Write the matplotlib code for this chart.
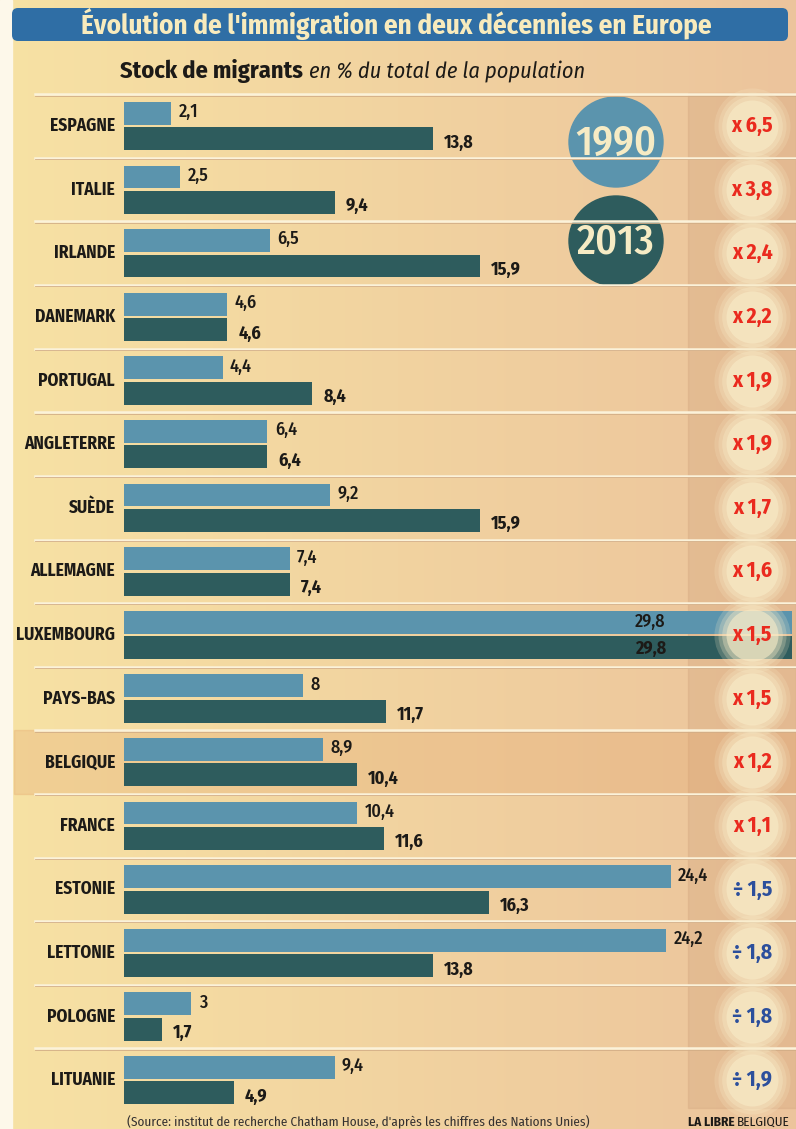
import numpy as np
import matplotlib
matplotlib.use("Agg")
import matplotlib.pyplot as plt
import matplotlib.patches as mpatches
import matplotlib.transforms as mtrans
from matplotlib.colors import to_rgb

# data
countries = ["ESPAGNE", "ITALIE", "IRLANDE", "DANEMARK", "PORTUGAL", "ANGLETERRE",
             "SUÈDE", "ALLEMAGNE", "LUXEMBOURG", "PAYS-BAS", "BELGIQUE", "FRANCE",
             "ESTONIE", "LETTONIE", "POLOGNE", "LITUANIE"]
v1990 = [2.1, 2.5, 6.5, 4.6, 4.4, 6.4, 9.2, 7.4, 29.8, 8.0, 8.9, 10.4, 24.4, 24.2, 3.0, 9.4]
v2013 = [13.8, 9.4, 15.9, 4.6, 8.4, 6.4, 15.9, 7.4, 29.8, 11.7, 10.4, 11.6, 16.3, 13.8, 1.7, 4.9]
lab1990 = ["2,1", "2,5", "6,5", "4,6", "4,4", "6,4", "9,2", "7,4", "29,8", "8", "8,9",
           "10,4", "24,4", "24,2", "3", "9,4"]
lab2013 = ["13,8", "9,4", "15,9", "4,6", "8,4", "6,4", "15,9", "7,4", "29,8", "11,7",
           "10,4", "11,6", "16,3", "13,8", "1,7", "4,9"]
ratios = ["x 6,5", "x 3,8", "x 2,4", "x 2,2", "x 1,9", "x 1,9", "x 1,7", "x 1,6",
          "x 1,5", "x 1,5", "x 1,2", "x 1,1", "÷ 1,5", "÷ 1,8", "÷ 1,8", "÷ 1,9"]

plt.rcParams["font.family"] = ["Fira Sans Condensed", "DejaVu Sans"]

c90 = "#5b94ad"
c13 = "#2e5c5d"
red = "#ea2a1e"
blue = "#2c4f9c"
ink = "#1c1a17"

W, H = 796, 1129
fig = plt.figure(figsize=(W / 100, H / 100), dpi=100)
r = fig.canvas.get_renderer()
pix = mtrans.IdentityTransform()

# background "paper"
bg = fig.add_axes([0, 0, 1, 1])
bg.set_xlim(0, W)
bg.set_ylim(H, 0)
bg.axis("off")
t = np.linspace(0, 1, 300)[None, :, None]
left_c = np.array(to_rgb("#f7e2a4"))
right_c = np.array(to_rgb("#ecc49c"))
img = left_c * (1 - t) + right_c * t
bg.imshow(img, extent=[0, W, H, 0], aspect="auto", zorder=0)
bg.add_patch(mpatches.Rectangle((0, 0), 12, H, color="#fdf8ea", zorder=1))
bg.add_patch(mpatches.Rectangle((688, 93), W - 688, 1015, color="#d6a982", alpha=0.4, zorder=1))

# title banner
bg.add_patch(mpatches.FancyBboxPatch((12, 8), 776, 33, boxstyle="round,pad=0,rounding_size=6",
                                     fc="#2f6ea5", ec="none", zorder=2))
bg.text(396, 24, "Évolution de l'immigration en deux décennies en Europe", ha="center",
        va="center", color="#f8ebbd", fontsize=19.5, fontweight="bold", zorder=3)

# subtitle
st = bg.text(120, 71, "Stock de migrants", ha="left", va="center", color=ink,
             fontsize=17.5, fontweight="bold", zorder=3)
ext = st.get_window_extent(renderer=r)
bg.text(ext.x1 + 6, (ext.y0 + ext.y1) / 2 - 1, "en % du total de la population", ha="left",
        va="center", color=ink, fontsize=16, style="italic", zorder=3, transform=pix)

# legend circles
for cy, col, txt in [(142, c90, "1990"), (241, c13, "2013")]:
    bg.add_patch(mpatches.Ellipse((616, cy), 94, 90, color=col, zorder=3))
    bg.text(616, cy + 1, txt, ha="center", va="center", color="#f6ebc4", fontsize=30,
            fontweight="medium", zorder=4)

# bars
ax = fig.add_axes([124 / W, 1 - 1112 / H, 1 - 124 / W, (1112 - 93) / H])
ax.set_xlim(0, 30)
ax.set_ylim(15.5, -0.52)
ax.axis("off")
ax.patch.set_alpha(0)

n = len(countries)
y = np.arange(n)
trans = mtrans.blended_transform_factory(fig.transFigure, ax.transData)

# highlighted Belgium row
bi = countries.index("BELGIQUE")
ax.add_patch(mpatches.Rectangle((14 / W, bi - 0.5), 1 - 14 / W, 1, transform=trans,
                                color="#e2a26a", alpha=0.28, zorder=0, clip_on=False))

# row separators
for k in range(n):
    ax.plot([35 / W, 1], [k - 0.5, k - 0.5], transform=trans, color="#fbf2da", lw=1.8,
            clip_on=False, zorder=1)
    ax.plot([35 / W, 1], [k - 0.48, k - 0.48], transform=trans, color="#d2ad86", lw=0.6,
            clip_on=False, zorder=1)

ax.barh(y - 0.2, v1990, height=0.36, color=c90, zorder=2)
ax.barh(y + 0.2, v2013, height=0.36, color=c13, zorder=2)

for i in range(n):
    ax.text(-0.4, i, countries[i], ha="right", va="center", color=ink, fontsize=12.5,
            fontweight="bold", clip_on=False)
    if v1990[i] > 28:
        ax.text(23.5, i - 0.21, lab1990[i], ha="center", va="center", color=ink, fontsize=13,
                fontweight="medium", zorder=3)
        ax.text(23.5, i + 0.22, lab2013[i], ha="center", va="center", color=ink, fontsize=13,
                fontweight="bold", zorder=3)
    else:
        ax.text(v1990[i] + 0.33, i - 0.22, lab1990[i], ha="left", va="center", color=ink,
                fontsize=13, fontweight="medium", zorder=3)
        ax.text(v2013[i] + 0.5, i + 0.26, lab2013[i], ha="left", va="center", color=ink,
                fontsize=13, fontweight="bold", zorder=3)

# ratio column with soft light glow
for s, a in [(3000, 0.2), (2400, 0.25), (1900, 0.35), (1400, 0.6)]:
    ax.scatter([0.945] * n, y, s=s, c="#f9ecc8", alpha=a, lw=0, transform=trans,
               zorder=4, clip_on=False)
for i in range(n):
    col = red if ratios[i].startswith("x") else blue
    ax.text(0.945, i, ratios[i], transform=trans, ha="center", va="center", color=col,
            fontsize=15.5, fontweight="bold", zorder=5, clip_on=False)

# footer
bg.text(127, 1122, "(Source: institut de recherche Chatham House, d'après les chiffres des Nations Unies)",
        ha="left", va="center", color="#333030", fontsize=9.5, zorder=3)
b = bg.text(790, 1122, "BELGIQUE", ha="right", va="center", color=ink, fontsize=9.5, zorder=3)
be = b.get_window_extent(renderer=r)
bg.text(be.x0 - 3, (be.y0 + be.y1) / 2, "LA LIBRE", ha="right", va="center", color=ink,
        fontsize=9.5, fontweight="bold", zorder=3, transform=pix)

fig.savefig("out.png", dpi=100)
